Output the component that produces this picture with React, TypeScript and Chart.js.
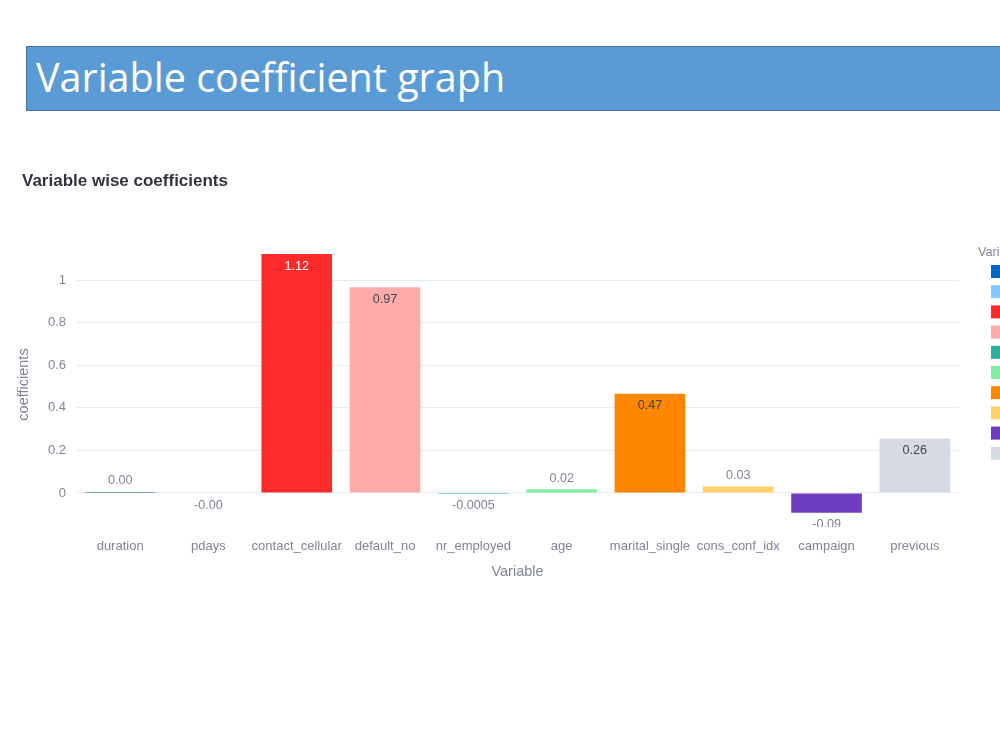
import React, { useEffect, useRef } from "react";
import { Chart, registerables } from "chart.js";

Chart.register(...registerables);

// Model variables and their fitted coefficients
const variables = [
  "duration",
  "pdays",
  "contact_cellular",
  "default_no",
  "nr_employed",
  "age",
  "marital_single",
  "cons_conf_idx",
  "campaign",
  "previous",
];
const coefficients = [0.0048, -0.002, 1.123, 0.967, -0.0005, 0.018, 0.467, 0.03, -0.093, 0.256];
const barColors = [
  "#0068C9",
  "#83C9FF",
  "#FF2B2B",
  "#FFABAB",
  "#29B09D",
  "#7DEFA1",
  "#FF8700",
  "#FFD16A",
  "#6D3FC0",
  "#D5DAE5",
];
const yTicks = [0, 0.2, 0.4, 0.6, 0.8, 1];
const yMin = -0.16;
const yMax = 1.18;

const FONT = "'Liberation Sans', Arial, sans-serif";
const AXIS_GREY = "#808495";
const DARK_TEXT = "#31333F";

const formatCoef = (v: number) => (Math.abs(v) < 0.001 ? String(v) : v.toFixed(2));

const luminance = (hex: string) => {
  const n = parseInt(hex.slice(1), 16);
  const c = [(n >> 16) & 255, (n >> 8) & 255, n & 255].map((x) => {
    const s = x / 255;
    return s <= 0.03928 ? s / 12.92 : Math.pow((s + 0.055) / 1.055, 2.4);
  });
  return 0.2126 * c[0] + 0.7152 * c[1] + 0.0722 * c[2];
};

// Value labels, axis titles, chart title and the legend column
const decorations = {
  id: "decorations",
  afterDatasetsDraw(chart: any) {
    const { ctx, chartArea } = chart;
    const meta = chart.getDatasetMeta(0);
    ctx.save();
    ctx.beginPath();
    ctx.rect(chartArea.left, chartArea.top, chartArea.right - chartArea.left, chartArea.bottom - chartArea.top);
    ctx.clip();
    ctx.font = `12.6px ${FONT}`;
    ctx.textAlign = "center";
    ctx.textBaseline = "middle";
    meta.data.forEach((el: any, i: number) => {
      const v = coefficients[i];
      const top = Math.min(el.y, el.base);
      const bottom = Math.max(el.y, el.base);
      const h = bottom - top;
      const label = formatCoef(v);
      if (h > 20) {
        ctx.fillStyle = luminance(barColors[i]) < 0.3 ? "#FFFFFF" : "#444444";
        ctx.fillText(label, el.x, v >= 0 ? top + 12 : bottom - 12);
      } else {
        ctx.fillStyle = AXIS_GREY;
        ctx.fillText(label, el.x, v >= 0 ? top - 11 : bottom + 12);
      }
    });
    ctx.restore();
  },
  afterDraw(chart: any) {
    const { ctx, chartArea } = chart;
    ctx.save();
    // chart title
    ctx.font = `bold 17px ${FONT}`;
    ctx.fillStyle = DARK_TEXT;
    ctx.textAlign = "left";
    ctx.textBaseline = "middle";
    ctx.fillText("Variable wise coefficients", 22, 31);

    // axis titles
    ctx.font = `14.5px ${FONT}`;
    ctx.fillStyle = AXIS_GREY;
    ctx.textAlign = "center";
    ctx.fillText("Variable", (chartArea.left + chartArea.right) / 2, chartArea.bottom + 45);
    ctx.save();
    ctx.translate(24, (chartArea.top + chartArea.bottom) / 2);
    ctx.rotate(-Math.PI / 2);
    ctx.fillText("coefficients", 0, 0);
    ctx.restore();

    // legend
    ctx.font = `12.6px ${FONT}`;
    ctx.textAlign = "left";
    ctx.fillText("Variable", 978, chartArea.top + 11);
    variables.forEach((name, i) => {
      ctx.fillStyle = barColors[i];
      ctx.fillRect(991, chartArea.top + 23 + i * 20.2, 14, 13);
      ctx.fillStyle = AXIS_GREY;
      ctx.fillText(name, 1010, chartArea.top + 29.5 + i * 20.2);
    });
    ctx.restore();
  },
};

function CoefficientChart() {
  const canvasRef = useRef<HTMLCanvasElement | null>(null);

  useEffect(() => {
    if (!canvasRef.current) return;
    const chart = new Chart(canvasRef.current, {
      type: "bar",
      data: {
        labels: variables,
        datasets: [
          {
            label: "coefficients",
            data: coefficients,
            backgroundColor: barColors,
            borderWidth: 0,
            barPercentage: 0.8,
            categoryPercentage: 1.0,
          },
        ],
      },
      options: {
        responsive: false,
        animation: false,
        layout: { padding: { top: 92, right: 41, left: 0, bottom: 0 } },
        plugins: {
          legend: { display: false },
          title: { display: false },
          tooltip: { enabled: false },
        },
        scales: {
          x: {
            grid: { display: false, drawTicks: false },
            border: { display: false },
            ticks: {
              color: AXIS_GREY,
              font: { family: FONT, size: 13 },
              padding: 12,
              maxRotation: 0,
              autoSkip: false,
            },
            afterFit(scale: any) {
              scale.height = 73;
            },
          },
          y: {
            min: yMin,
            max: yMax,
            grid: { color: "#E8ECF2", lineWidth: 1, drawTicks: false },
            border: { display: false },
            ticks: {
              color: AXIS_GREY,
              font: { family: FONT, size: 13 },
              padding: 10,
              callback: (v: any) => String(Number(v)),
            },
            afterBuildTicks(scale: any) {
              scale.ticks = yTicks.map((value) => ({ value }));
            },
            afterFit(scale: any) {
              scale.width = 76;
            },
          },
        },
      },
      plugins: [decorations],
    });
    return () => chart.destroy();
  }, []);

  return (
    <canvas
      ref={canvasRef}
      width={1000}
      height={450}
      style={{ position: "absolute", left: 0, top: 150, width: 1000, height: 450 }}
    />
  );
}

export default function App() {
  return (
    <div
      style={{
        position: "fixed",
        left: 0,
        top: 0,
        width: 1000,
        height: 750,
        overflow: "hidden",
        background: "#FFFFFF",
      }}
    >
      <div
        style={{
          position: "absolute",
          left: 26,
          top: 46,
          width: 1000,
          height: 63,
          background: "#5B9BD5",
          border: "1px solid #41719C",
        }}
      >
        <span
          style={{
            position: "absolute",
            left: 9,
            top: 3,
            fontFamily: "'Open Sans', sans-serif",
            fontWeight: 400,
            fontSize: 39.5,
            lineHeight: "normal",
            color: "#FFFFFF",
            whiteSpace: "nowrap",
          }}
        >
          Variable coefficient graph
        </span>
      </div>
      <CoefficientChart />
    </div>
  );
}
